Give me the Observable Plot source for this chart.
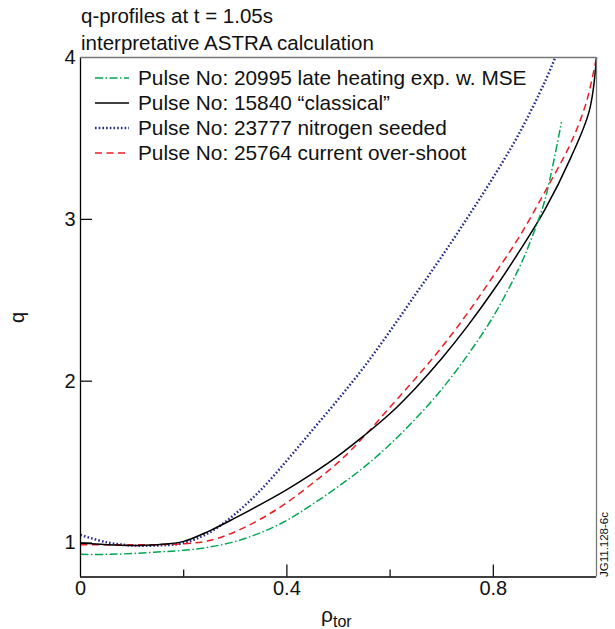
<!DOCTYPE html>
<html>
<head>
<meta charset="utf-8">
<script src="https://cdn.jsdelivr.net/npm/d3@7"></script>
<script src="https://cdn.jsdelivr.net/npm/@observablehq/plot@0.6"></script>
<style>
  html, body { margin: 0; padding: 0; background: #fff; }
  body { width: 615px; height: 629px; position: relative; overflow: hidden;
         font-family: "Liberation Sans", Arial, Helvetica, sans-serif; color: #111; }
  #chart { position: absolute; left: 0; top: 0; }
  .title { position: absolute; left: 81px; font-size: 20.5px; line-height: 1; white-space: nowrap; }
  #legend { position: absolute; left: 95px; top: 65px; font-size: 20.8px; line-height: 25px; }
  #legend .row { display: flex; align-items: center; height: 25px; white-space: nowrap; }
  #legend svg { width: 34px; height: 10px; margin-right: 9px; }
  #code { position: absolute; left: 599px; top: 577px; font-size: 11.5px; line-height: 1; transform-origin: 0 0;
          transform: rotate(-90deg); white-space: nowrap; }
  #xlab { position: absolute; left: 321px; top: 604px; font-size: 21px; line-height: 1; white-space: nowrap; }
  #xlab sub { font-size: 16px; vertical-align: -5px; }
  #ylab { position: absolute; left: 12px; top: 306px; font-size: 20px; transform: rotate(-90deg); }
</style>
</head>
<body>
<div id="chart"></div>
<div class="title" style="top:6px">q-profiles at t = 1.05s</div>
<div class="title" style="top:33px">interpretative ASTRA calculation</div>
<div id="legend"></div>
<div id="code">JG11.128-6c</div>
<div id="xlab">ρ<sub>tor</sub></div>
<div id="ylab">q</div>
<script>
// ---- data ----
const seriesNames = [
  "Pulse No: 20995 late heating exp. w. MSE",
  "Pulse No: 15840 \u201cclassical\u201d",
  "Pulse No: 23777 nitrogen seeded",
  "Pulse No: 25764 current over-shoot"
];
const rhoGreen = [0,0.05,0.1,0.15,0.2,0.25,0.3,0.35,0.4,0.45,0.5,0.55,0.6,0.65,0.7,0.75,0.8,0.85,0.875,0.9,0.932];
const qGreen   = [0.93,0.93,0.935,0.945,0.955,0.975,1.01,1.065,1.14,1.24,1.35,1.47,1.61,1.77,1.95,2.16,2.40,2.70,2.89,3.12,3.60];
const rhoBlack = [0,0.05,0.1,0.15,0.2,0.25,0.3,0.35,0.4,0.45,0.5,0.55,0.6,0.65,0.7,0.75,0.8,0.85,0.9,0.95,0.986,1.0];
const qBlack   = [1.00,0.99,0.985,0.99,1.01,1.075,1.155,1.24,1.33,1.43,1.54,1.665,1.80,1.96,2.14,2.34,2.56,2.80,3.06,3.38,3.67,4.0];
const rhoBlue  = [0,0.05,0.1,0.15,0.2,0.25,0.3,0.35,0.4,0.45,0.5,0.55,0.6,0.65,0.7,0.75,0.8,0.85,0.9,0.92];
const qBlue    = [1.05,1.005,0.985,0.985,1.0,1.065,1.18,1.33,1.51,1.70,1.89,2.09,2.31,2.54,2.77,3.01,3.26,3.53,3.85,4.0];
const rhoRed   = [0,0.05,0.1,0.15,0.2,0.25,0.3,0.35,0.4,0.45,0.5,0.55,0.6,0.65,0.7,0.75,0.8,0.85,0.9,0.95,0.98,1.0];
const qRed     = [0.99,0.99,0.99,0.99,0.995,1.015,1.07,1.15,1.25,1.37,1.50,1.66,1.84,2.02,2.21,2.42,2.65,2.89,3.17,3.47,3.72,4.0];
const xMinorTicks = [0.2,0.6];
const xMajorTicks = [0.4,0.8];
const xLabelTicks = [0,0.4,0.8];
const yTicks = [1,2,3,4];

// ---- styles ----
const styles = [
  {stroke: "#00a651", dash: "8,2.5,1.5,2.5", width: 1.5, cap: "butt"},
  {stroke: "#000000", dash: null,            width: 1.5, cap: "butt"},
  {stroke: "#262a8c", dash: "1.6,2.1",       width: 2.4, cap: "butt"},
  {stroke: "#ed1c24", dash: "7,4.5",         width: 1.5, cap: "butt"}
];
const rhos = [rhoGreen, rhoBlack, rhoBlue, rhoRed];
const qs = [qGreen, qBlack, qBlue, qRed];
const toRows = (r, q) => r.map((x, i) => ({rho: x, q: q[i]}));

const lineMarks = rhos.map((r, i) => Plot.line(toRows(r, qs[i]), {
  x: "rho", y: "q", curve: "catmull-rom",
  stroke: styles[i].stroke, strokeWidth: styles[i].width,
  strokeLinecap: styles[i].cap,
  strokeDasharray: styles[i].dash || undefined
}));

const chart = Plot.plot({
  width: 615, height: 629,
  marginLeft: 80, marginRight: 19, marginTop: 57, marginBottom: 52.5,
  style: {fontFamily: "'Liberation Sans', Arial, Helvetica, sans-serif", fontSize: "20px", color: "#111", background: "transparent"},
  x: {domain: [0, 1]},
  y: {domain: [0.79, 4]},
  marks: [
    lineMarks[2], lineMarks[3], lineMarks[1], lineMarks[0],
    Plot.ruleY([0.79], {stroke: "#000", strokeWidth: 1.3}),
    Plot.ruleX([0], {stroke: "#000", strokeWidth: 1.3}),
    Plot.ruleY([4], {stroke: "#777", strokeWidth: 1.3}),
    Plot.ruleX([1], {stroke: "#777", strokeWidth: 1.3}),
    Plot.axisX({ticks: xMinorTicks, tickSize: -7, tickFormat: () => "", label: null, stroke: "#000", strokeWidth: 1.2}),
    Plot.axisX({ticks: xMajorTicks, tickSize: -12, tickFormat: () => "", label: null, stroke: "#000", strokeWidth: 1.2}),
    Plot.axisX({ticks: xLabelTicks, tickSize: 0, tickPadding: 4, tickFormat: d => d === 0 ? "0" : String(d), label: null, fontSize: 20, fill: "#111"}),
    Plot.axisY({ticks: yTicks.slice(0,3), tickSize: -12, tickFormat: () => "", label: null, stroke: "#000", strokeWidth: 1.2}),
    Plot.axisY({ticks: yTicks, tickSize: 0, tickPadding: 5, tickFormat: d => String(d), label: null, fontSize: 20, fill: "#111"})
  ]
});
document.getElementById("chart").appendChild(chart);

// ---- legend ----
const legend = document.getElementById("legend");
seriesNames.forEach((name, i) => {
  const row = document.createElement("div");
  row.className = "row";
  const s = styles[i];
  row.innerHTML = `<svg viewBox="0 0 34 10"><line x1="0" y1="5" x2="34" y2="5" stroke="${s.stroke}" stroke-width="${s.width}" ${s.dash ? `stroke-dasharray="${s.dash}"` : ""}/></svg><span></span>`;
  row.querySelector("span").textContent = name;
  legend.appendChild(row);
});
</script>
</body>
</html>
